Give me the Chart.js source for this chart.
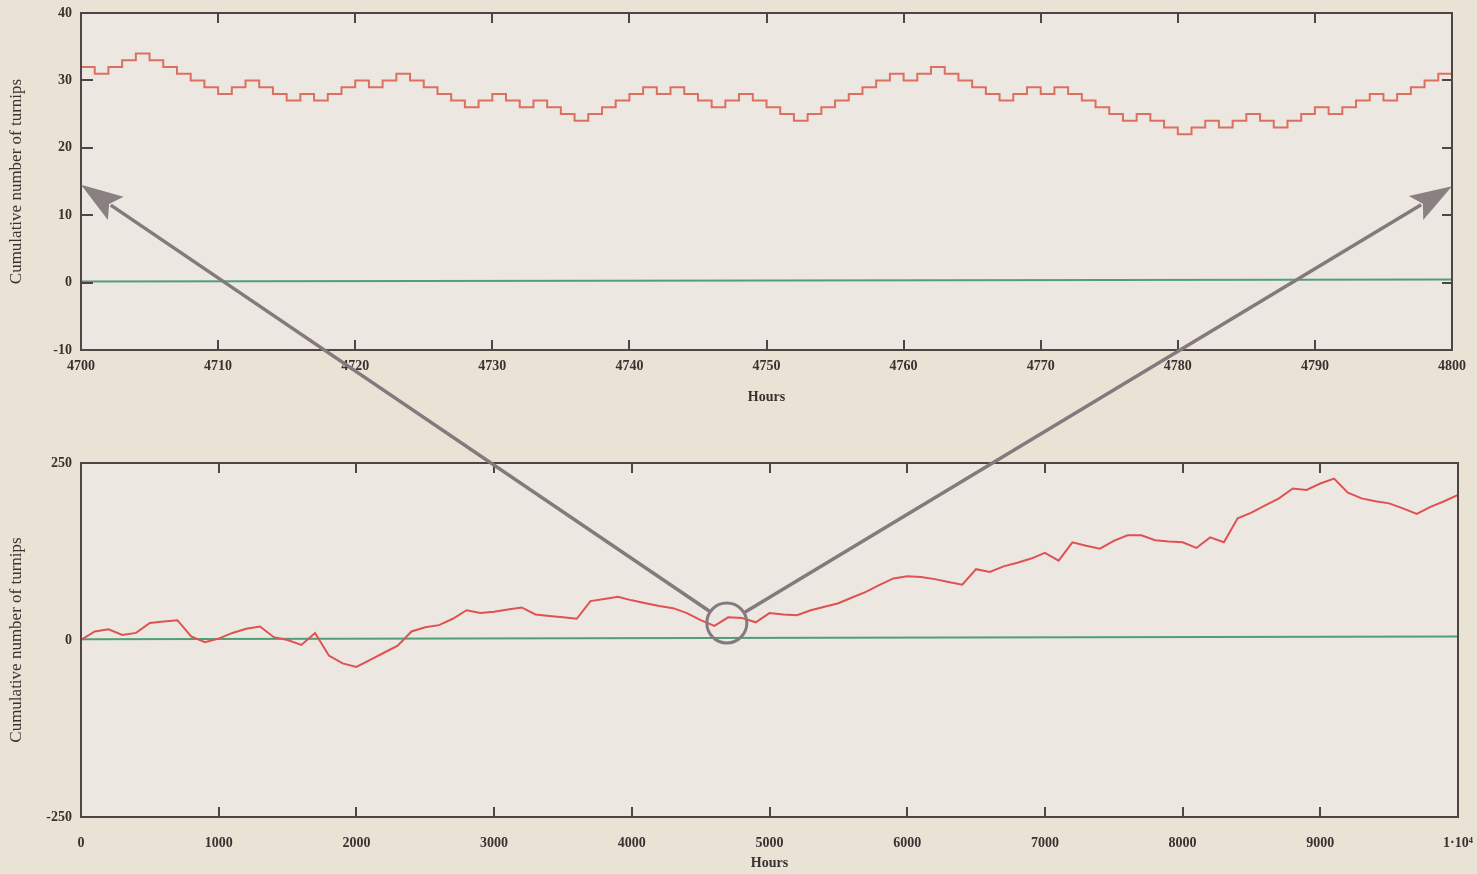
<!DOCTYPE html>
<html>
<head>
<meta charset="utf-8">
<script src="https://cdn.jsdelivr.net/npm/chart.js@4.4.0/dist/chart.umd.min.js"></script>
<style>
  html, body { margin: 0; padding: 0; background: #e8e3d5; }
  #wrap { position: relative; width: 1477px; height: 874px; overflow: hidden; }
  canvas { position: absolute; left: 0; }
  #topChart { top: 0; }
  #bottomChart { top: 440px; }
  #overlay { top: 0; pointer-events: none; }
</style>
</head>
<body>
<div id="wrap">
  <canvas id="topChart" width="1477" height="420"></canvas>
  <canvas id="bottomChart" width="1477" height="434"></canvas>
  <canvas id="overlay" width="1477" height="874"></canvas>
</div>
<script>
// zoomed window: hours 4700..4800, one value per hour (turnip count)
const topStart = 4700;
const topValues = [
  32, 31, 32, 33, 34, 33, 32, 31, 30, 29,
  28, 29, 30, 29, 28, 27, 28, 27, 28, 29,
  30, 29, 30, 31, 30, 29, 28, 27, 26, 27,
  28, 27, 26, 27, 26, 25, 24, 25, 26, 27,
  28, 29, 28, 29, 28, 27, 26, 27, 28, 27,
  26, 25, 24, 25, 26, 27, 28, 29, 30, 31,
  30, 31, 32, 31, 30, 29, 28, 27, 28, 29,
  28, 29, 28, 27, 26, 25, 24, 25, 24, 23,
  22, 23, 24, 23, 24, 25, 24, 23, 24, 25,
  26, 25, 26, 27, 28, 27, 28, 29, 30, 31,
  31
];
const topZeroLine = [0.15, 0.45];

// full run: hours 0..10000, read every 100 hours
const bottomStep = 100;
const bottomValues = [
  0, 12, 15, 7, 10, 24, 26, 28, 5, -3,
  2, 10, 16, 19, 4, 0, -7, 10, -22, -33,
  -38, -28, -18, -8, 12, 18, 21, 30, 42, 38,
  40, 43, 46, 36, 34, 32, 30, 55, 58, 61,
  56, 52, 48, 45, 38, 28, 20, 32, 31, 25,
  38, 36, 35, 42, 47, 52, 60, 68, 78, 87,
  90, 89, 86, 82, 78, 100, 96, 104, 109, 115,
  123, 112, 138, 133, 129, 140, 148, 148, 141, 139,
  138, 130, 145, 138, 172, 180, 190, 200, 214, 212,
  221, 228, 208, 200, 196, 193, 186, 178, 188, 196,
  205
];
const bottomZeroLine = [1, 5];

const topTicksX = [4700, 4800, 10];
const topTicksY = [-10, 40, 10];
const bottomTicksX = [0, 10000, 1000];
const bottomTicksY = [-250, 250, 250];

const calloutCenter = [4690, 24];
const arrowTips = [[4700, 14.5], [4800, 14.3]];

const inkColor = '#3a3131';
const frameColor = '#4f4545';
const plotBg = '#ede7e2';
const serif = "'Liberation Serif', 'DejaVu Serif', serif";

// plot background, box frame and inward ticks
const framePlugin = {
  id: 'frame',
  beforeDraw(chart) {
    const {ctx, chartArea: a} = chart;
    ctx.save();
    ctx.fillStyle = plotBg;
    ctx.fillRect(a.left, a.top, a.width, a.height);
    ctx.restore();
  },
  afterDatasetsDraw(chart, args, opts) {
    const {ctx, chartArea: a, scales: {x, y}} = chart;
    ctx.save();
    ctx.strokeStyle = frameColor;
    ctx.lineWidth = 2;
    ctx.strokeRect(a.left, a.top, a.width, a.height);
    ctx.beginPath();
    x.ticks.forEach(t => {
      const px = Math.round(x.getPixelForValue(t.value));
      if (px <= a.left + 2 || px >= a.right - 2) return;
      ctx.moveTo(px, a.bottom);
      ctx.lineTo(px, a.bottom - opts.len);
      ctx.moveTo(px, a.top);
      ctx.lineTo(px, a.top + opts.len);
    });
    if (opts.yTicks) {
      y.ticks.forEach(t => {
        const py = Math.round(y.getPixelForValue(t.value));
        if (py <= a.top + 2 || py >= a.bottom - 2) return;
        ctx.moveTo(a.left, py);
        ctx.lineTo(a.left + opts.len + 2, py);
        ctx.moveTo(a.right, py);
        ctx.lineTo(a.right - opts.len, py);
      });
    }
    ctx.stroke();
    ctx.restore();
  }
};

function tickLabel(v) {
  if (v === 10000) return '1·10⁴';
  return String(v);
}

function noEdgePadding(s) {
  s.paddingLeft = 0;
  s.paddingRight = 0;
  s.paddingTop = 0;
  s.paddingBottom = 0;
}

function makeOptions(cfg) {
  return {
    responsive: false,
    animation: false,
    events: [],
    layout: {padding: cfg.padding},
    plugins: {
      legend: {display: false},
      tooltip: {enabled: false},
      frame: {len: 10, yTicks: cfg.yTicks}
    },
    scales: {
      x: {
        type: 'linear',
        min: cfg.tx[0], max: cfg.tx[1],
        afterFit: s => { s.height = cfg.xHeight; noEdgePadding(s); },
        grid: {display: false, drawTicks: false},
        border: {display: false},
        ticks: {
          stepSize: cfg.tx[2], autoSkip: false, maxRotation: 0,
          padding: cfg.xPad, color: inkColor,
          font: {family: serif, size: 14, weight: 'bold'},
          callback: tickLabel
        },
        title: {
          display: true, text: 'Hours', color: inkColor,
          font: {family: serif, size: 14, weight: 'bold'},
          padding: {top: 0, bottom: cfg.titlePad}
        }
      },
      y: {
        min: cfg.ty[0], max: cfg.ty[1],
        afterFit: s => { s.width = 81; noEdgePadding(s); },
        grid: {display: false, drawTicks: false},
        border: {display: false},
        ticks: {
          stepSize: cfg.ty[2], padding: 9, color: inkColor,
          font: {family: serif, size: 14, weight: 'bold'},
          callback: tickLabel
        },
        title: {
          display: true, text: 'Cumulative number of turnips', color: inkColor,
          font: {family: serif, size: 17},
          padding: {top: 6, bottom: 0}
        }
      }
    }
  };
}

const topChart = new Chart(document.getElementById('topChart'), {
  type: 'line',
  data: {
    datasets: [
      {
        data: topValues.map((v, i) => ({x: topStart + i, y: v})),
        stepped: 'before',
        borderColor: 'rgb(220,112,95)',
        borderWidth: 2,
        pointRadius: 0
      },
      {
        data: [{x: topTicksX[0], y: topZeroLine[0]}, {x: topTicksX[1], y: topZeroLine[1]}],
        borderColor: 'rgb(78,160,120)',
        borderWidth: 2,
        pointRadius: 0
      }
    ]
  },
  options: makeOptions({
    padding: {top: 13, right: 25, bottom: 0, left: 0},
    tx: topTicksX, ty: topTicksY,
    xHeight: 70, xPad: 8, titlePad: 14, yTicks: true
  }),
  plugins: [framePlugin]
});

const bottomChart = new Chart(document.getElementById('bottomChart'), {
  type: 'line',
  data: {
    datasets: [
      {
        data: bottomValues.map((v, i) => ({x: i * bottomStep, y: v})),
        borderColor: 'rgb(222,82,82)',
        borderWidth: 2,
        pointRadius: 0
      },
      {
        data: [{x: bottomTicksX[0], y: bottomZeroLine[0]}, {x: bottomTicksX[1], y: bottomZeroLine[1]}],
        borderColor: 'rgb(78,160,120)',
        borderWidth: 2,
        pointRadius: 0
      }
    ]
  },
  options: makeOptions({
    padding: {top: 23, right: 19, bottom: 0, left: 0},
    tx: bottomTicksX, ty: bottomTicksY,
    xHeight: 57, xPad: 18, titlePad: 2, yTicks: false
  }),
  plugins: [framePlugin]
});

// circle on the full run and arrows pointing up to the zoomed window
function drawCallout() {
  const ctx = document.getElementById('overlay').getContext('2d');
  const bottomTop = 440;
  const cx = bottomChart.scales.x.getPixelForValue(calloutCenter[0]);
  const cy = bottomChart.scales.y.getPixelForValue(calloutCenter[1]) + bottomTop;
  const r = 20;
  ctx.save();
  ctx.strokeStyle = 'rgb(132,122,126)';
  ctx.fillStyle = 'rgb(138,128,130)';
  ctx.lineWidth = 3;
  ctx.beginPath();
  ctx.arc(cx, cy, r, 0, Math.PI * 2);
  ctx.stroke();
  arrowTips.forEach(tip => {
    const tx = topChart.scales.x.getPixelForValue(tip[0]);
    const ty = topChart.scales.y.getPixelForValue(tip[1]);
    const dx = tx - cx, dy = ty - cy;
    const len = Math.hypot(dx, dy);
    const ux = dx / len, uy = dy / len;
    const sx = cx + ux * r, sy = cy + uy * r;
    const headLen = 42, headHalf = 14;
    const bx = tx - ux * headLen, by = ty - uy * headLen;
    ctx.lineWidth = 3.5;
    ctx.beginPath();
    ctx.moveTo(sx, sy);
    ctx.lineTo(bx + ux * 6, by + uy * 6);
    ctx.stroke();
    ctx.beginPath();
    ctx.moveTo(tx, ty);
    ctx.lineTo(bx - uy * headHalf, by + ux * headHalf);
    ctx.lineTo(bx + ux * 8, by + uy * 8);
    ctx.lineTo(bx + uy * headHalf, by - ux * headHalf);
    ctx.closePath();
    ctx.fill();
  });
  ctx.restore();
}
drawCallout();
</script>
</body>
</html>
